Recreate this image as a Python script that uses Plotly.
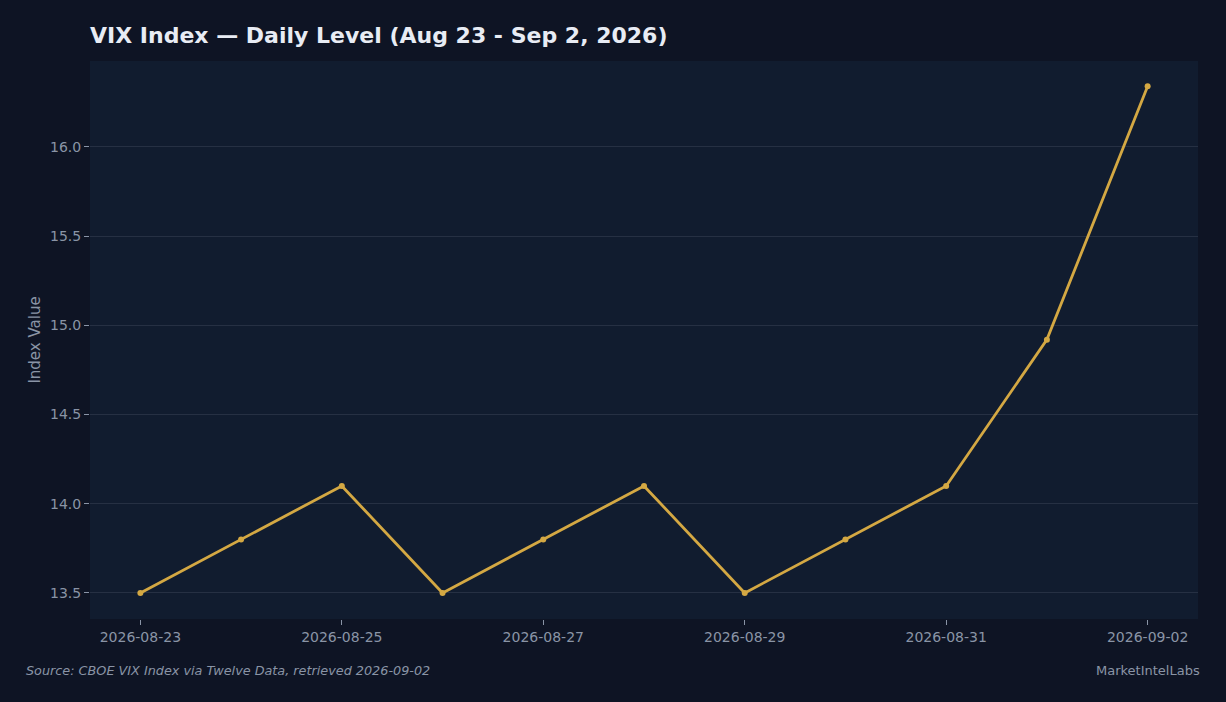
import plotly.graph_objects as go

dates = ["2026-08-23", "2026-08-24", "2026-08-25", "2026-08-26", "2026-08-27", "2026-08-28",
         "2026-08-29", "2026-08-30", "2026-08-31", "2026-09-01", "2026-09-02"]
vix = [13.5, 13.8, 14.1, 13.5, 13.8, 14.1, 13.5, 13.8, 14.1, 14.92, 16.34]

title_text = "VIX Index — Daily Level (Aug 23 - Sep 2, 2026)"
y_title = "Index Value"
source_text = "Source: CBOE VIX Index via Twelve Data, retrieved 2026-09-02"
brand_text = "MarketIntelLabs"

fig = go.Figure()
fig.add_trace(go.Scatter(
    x=dates, y=vix, mode="lines+markers",
    line=dict(color="#d4a843", width=2.8),
    marker=dict(color="#d4a843", size=6),
    showlegend=False,
))

font = "DejaVu Sans, Verdana, sans-serif"
fig.update_layout(
    width=1226, height=702,
    paper_bgcolor="#0e1424",
    plot_bgcolor="#111c2f",
    margin=dict(l=90, r=28, t=61, b=83),
    font=dict(family=font, color="#8a94a6", size=14),
    title=dict(text="<b>" + title_text + "</b>", x=90/1226, xanchor="left",
               y=1 - 35/702, yanchor="middle",
               font=dict(size=22, color="#e8ecf4", family=font)),
    xaxis=dict(
        type="date",
        range=["2026-08-22 12:00", "2026-09-02 12:00"],
        dtick=2 * 86400000, tick0="2026-08-23", tickformat="%Y-%m-%d",
        showgrid=False, zeroline=False,
        ticks="outside", ticklen=5, tickcolor="#8a94a6",
        tickfont=dict(size=14, color="#8a94a6"),
    ),
    yaxis=dict(
        range=[13.354, 16.482],
        dtick=0.5, tickformat=".1f",
        gridcolor="#263043", gridwidth=1, zeroline=False,
        ticks="outside", ticklen=5, tickcolor="#8a94a6",
        tickfont=dict(size=14, color="#8a94a6"),
        title=dict(text=y_title, font=dict(size=15, color="#8a94a6"), standoff=5),
    ),
    annotations=[
        dict(text="<i>" + source_text + "</i>", xref="paper", yref="paper",
             x=-66/1108, y=-51/558, xanchor="left", yanchor="middle", showarrow=False,
             font=dict(size=12.8, color="#8a94a6", family=font)),
        dict(text=brand_text, xref="paper", yref="paper",
             x=1 + 4/1108, y=-51/558, xanchor="right", yanchor="middle", showarrow=False,
             font=dict(size=13, color="#8a94a6", family=font)),
    ],
)

fig.write_html("out.html", config={"displayModeBar": False})
with open("out.html", "r", encoding="utf-8") as f:
    html = f.read()
html = html.replace("<head>", "<head><style>html,body{margin:0;padding:0;background:#0e1424;}</style>", 1)
with open("out.html", "w", encoding="utf-8") as f:
    f.write(html)
